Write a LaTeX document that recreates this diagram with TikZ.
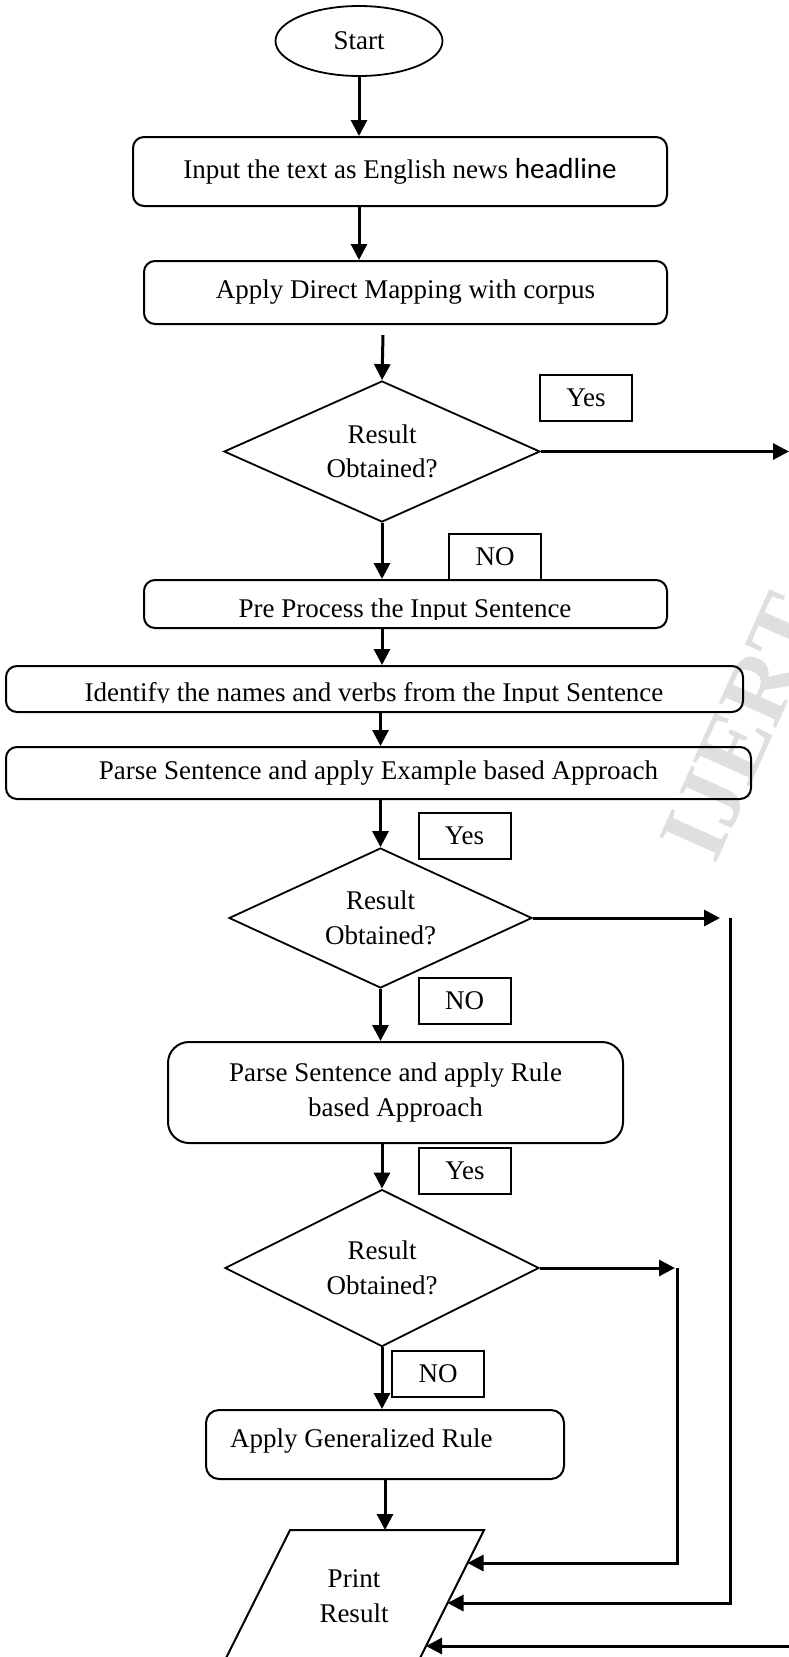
\documentclass[tikz,border=0pt]{standalone}
\usepackage{fontspec}
\setmainfont{Liberation Serif}
\newfontfamily\calibrifont{Carlito}
\usetikzlibrary{shapes.geometric,arrows.meta}
\begin{document}
\begin{tikzpicture}[x=1pt,y=-1pt,
  every node/.style={font=\fontsize{27}{34.5}\selectfont},
  procbox/.style={draw, line width=2pt, rounded corners=11pt, inner sep=0pt},
  labbox/.style={draw, line width=2pt, minimum width=92pt, minimum height=46pt, inner sep=0pt},
  decision/.style={draw, diamond, line width=1.8pt, inner sep=0pt, aspect=2.2, align=center},
  flow/.style={line width=3pt, -{Triangle[length=16pt,width=16pt]}},
]
\useasboundingbox (0,0) rectangle (789,1657);
\fill[white] (0,0) rectangle (789,1657);

% watermark
\node[rotate=66, text=gray!25, font=\fontsize{95}{95}\selectfont\bfseries, anchor=base west, inner sep=0pt] (wm) at (715,866) {IJERT};

% nodes
\node[draw, ellipse, line width=1.8pt, minimum width=167pt, minimum height=70pt, inner sep=0pt] (start) at (359,41) {Start};
\node[procbox, minimum width=534pt, minimum height=69pt] (b1) at (400,171.5) {Input the text as English news {\calibrifont\fontsize{29}{34}\selectfont headline}};
\node[procbox, minimum width=523pt, minimum height=63pt] (b2) at (405.5,292.5) {Apply Direct Mapping with corpus};

\node[decision, minimum width=316pt, minimum height=141pt] (d1) at (382,451.5) {Result\\Obtained?};
\node[labbox] (y1) at (586,398) {Yes};
\node[labbox] (n1) at (495,557) {NO};

\node[procbox, minimum width=523pt, minimum height=48pt] (b3) at (405.5,604) {};
\begin{scope}
  \clip (144,580) rectangle (667,619);
  \node[anchor=base, inner sep=0pt] (t3) at (405,617) {Pre Process the Input Sentence};
\end{scope}

\node[procbox, minimum width=737pt, minimum height=46pt] (b4) at (374.5,689) {};
\begin{scope}
  \clip (6,666) rectangle (743,702.5);
  \node[anchor=base, inner sep=0pt] (t4) at (374,701) {Identify the names and verbs from the Input Sentence};
\end{scope}

\node[procbox, minimum width=745pt, minimum height=52pt] (b5) at (378.5,773) {Parse Sentence and apply Example based Approach};

\node[decision, minimum width=303pt, minimum height=140pt] (d2) at (380.5,918) {Result\\Obtained?};
\node[labbox] (y2) at (464.5,836) {Yes};
\node[labbox] (n2) at (464.5,1000.5) {NO};

\node[procbox, rounded corners=21pt, minimum width=455pt, minimum height=101pt, align=center] (b6) at (395.5,1092.5) {Parse Sentence and apply Rule\\based Approach};
\node[labbox] (y3) at (465,1171) {Yes};

\node[decision, minimum width=314pt, minimum height=157pt] (d3) at (382,1268) {Result\\Obtained?};
\node[labbox] (n3) at (438,1373.5) {NO};

\node[procbox, rounded corners=13pt, minimum width=358pt, minimum height=69pt] (b7) at (385,1444.5) {};
\node[anchor=base west, inner sep=0pt] (t7) at (230,1447) {Apply Generalized Rule};

% print result parallelogram (bottom cut by the page edge)
\coordinate (pbl) at (225,1660);
\coordinate (ptl) at (290,1530);
\coordinate (ptr) at (484,1530);
\coordinate (pbr) at (419,1660);
\draw[line width=2pt] (pbl) -- (ptl) -- (ptr) -- (pbr);
\node[align=center] (pr) at (354,1596) {Print\\Result};
\coordinate (ptop) at (385,1530);
\coordinate (e1) at (467.5,1563);
\coordinate (e2) at (447.5,1603);
\coordinate (e3) at (426,1646);

% helper coordinates
\coordinate (c1) at (383,335);
\coordinate (r1) at (789,451.5);
\coordinate (r2) at (720,918);
\coordinate (v2) at (730,918);
\coordinate (r3) at (675,1268);
\coordinate (v3) at (677,1268);
\coordinate (r4) at (789,1646);

% connectors
\draw[flow] (start.south) -- (start.south |- b1.north);
\draw[flow] (start.south |- b1.south) -- (start.south |- b2.north);
\draw[flow] (c1) -- (d1.north);
\draw[flow] (d1.east) -- (r1);
\draw[flow] (d1.south) -- (d1.south |- b3.north);
\draw[flow] (d1.south |- b3.south) -- (d1.south |- b4.north);
\draw[flow] (d2.north |- b4.south) -- (d2.north |- b5.north);
\draw[flow] (d2.north |- b5.south) -- (d2.north);
\draw[flow] (d2.east) -- (r2);
\draw[flow] (d2.south) -- (d2.south |- b6.north);
\draw[flow] (d3.north |- b6.south) -- (d3.north);
\draw[flow] (d3.east) -- (r3);
\draw[flow] (d3.south) -- (d3.south |- b7.north);
\draw[flow] (b7.south) -- (ptop);
\draw[flow] (v3) |- (e1);
\draw[flow] (v2) |- (e2);
\draw[flow] (r4) -- (e3);
\end{tikzpicture}
\end{document}
